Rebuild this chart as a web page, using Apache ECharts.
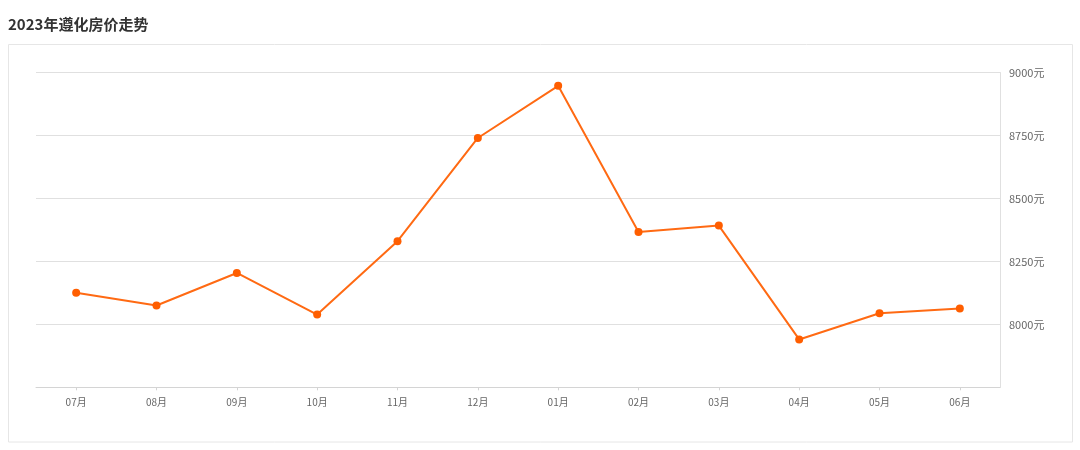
<!DOCTYPE html>
<html>
<head>
<meta charset="utf-8">
<script src="https://cdn.jsdelivr.net/npm/echarts@6/dist/echarts.min.js"></script>
<style>
html,body{margin:0;padding:0;background:#fff;}
#chart{width:1080px;height:450px;}
</style>
</head>
<body>
<div id="chart"></div>
<script>
const titleText = '2023年遵化房价走势';
const categories = ['07月','08月','09月','10月','11月','12月','01月','02月','03月','04月','05月','06月'];
const prices = [8125, 8075, 8204, 8039, 8330, 8740, 8947, 8367, 8392, 7940, 8044, 8063];
const yTicks = [7750, 8000, 8250, 8500, 8750, 9000];
const yUnit = '元';

const chart = echarts.init(document.getElementById('chart'), null, {renderer: 'canvas'});
const font = '"Noto Sans CJK SC", "Noto Sans", sans-serif';
chart.setOption({
  animation: false,
  backgroundColor: '#fff',
  title: {
    text: titleText,
    left: 3,
    top: 12,
    textStyle: {fontSize: 15, fontWeight: 'bold', color: '#333', fontFamily: font}
  },
  graphic: [{
    type: 'rect',
    silent: true,
    z: -1,
    shape: {x: 8.5, y: 44.5, width: 1064, height: 397.5},
    style: {fill: 'none', stroke: '#e6e6e6', lineWidth: 1}
  }],
  grid: {left: 36, right: 80, top: 72.5, bottom: 62.7, containLabel: false},
  xAxis: {
    type: 'category',
    data: categories,
    boundaryGap: true,
    axisLine: {show: true, lineStyle: {color: '#d4d4d4', width: 1}},
    axisTick: {show: true, alignWithLabel: true, length: 3, lineStyle: {color: '#d4d4d4'}},
    axisLabel: {color: '#666', fontSize: 10, fontFamily: font, margin: 10},
    splitLine: {show: false}
  },
  yAxis: {
    type: 'value',
    position: 'right',
    min: yTicks[0],
    max: yTicks[yTicks.length - 1],
    interval: yTicks[1] - yTicks[0],
    axisLine: {show: true, lineStyle: {color: '#e0e0e0', width: 1}},
    axisTick: {show: false},
    axisLabel: {
      color: '#666', fontSize: 11, fontFamily: font, margin: 9,
      showMinLabel: false,
      formatter: v => v + yUnit
    },
    splitLine: {show: true, lineStyle: {color: '#e0e0e0', width: 1}}
  },
  series: [{
    type: 'line',
    data: prices,
    symbol: 'circle',
    symbolSize: 8,
    lineStyle: {color: '#ff6a13', width: 2},
    itemStyle: {color: '#ff5e00'}
  }]
});
</script>
</body>
</html>
